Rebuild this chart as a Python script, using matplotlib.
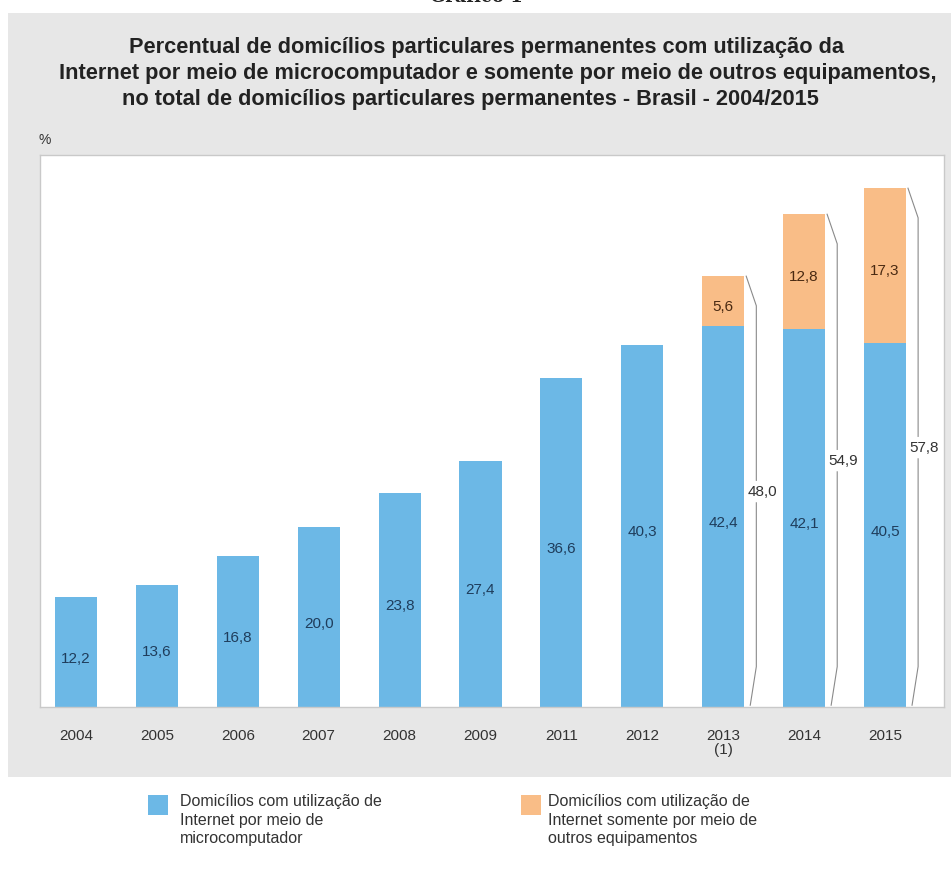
import matplotlib
matplotlib.use("Agg")
import matplotlib.pyplot as plt
from matplotlib.patches import Rectangle

plt.rcParams['font.family'] = ['Liberation Sans', 'DejaVu Sans']

# data
anos = ['2004', '2005', '2006', '2007', '2008', '2009', '2011', '2012', '2013\n(1)', '2014', '2015']
micro = [12.2, 13.6, 16.8, 20.0, 23.8, 27.4, 36.6, 40.3, 42.4, 42.1, 40.5]
outros = [0, 0, 0, 0, 0, 0, 0, 0, 5.6, 12.8, 17.3]
total = [None] * 8 + [48.0, 54.9, 57.8]

titulo = ["Percentual de domicílios particulares permanentes com utilização da",
          "Internet por meio de microcomputador e somente por meio de outros equipamentos,",
          "no total de domicílios particulares permanentes - Brasil - 2004/2015"]
leg_micro = "Domicílios com utilização de\nInternet por meio de\nmicrocomputador"
leg_outros = "Domicílios com utilização de\nInternet somente por meio de\noutros equipamentos"

AZUL = '#6cb8e6'
LARANJA = '#f9bd87'
W, H = 951, 884


def fx(px):
    return px / W


def fy(py):
    return 1 - py / H


fig = plt.figure(figsize=(9.51, 8.84), dpi=100)

# gray panel
fig.patches.append(Rectangle((fx(8), fy(777)), fx(960 - 8), 777 / H - 13 / H,
                             transform=fig.transFigure, facecolor='#e7e7e7',
                             edgecolor='none', zorder=-10))

fig.text(fx(476), fy(6), "Gráfico 1", ha='center', va='bottom', fontsize=13,
         fontweight='bold', family='DejaVu Serif', color='#222')

centros = [486, 498, 470]
for i, linha in enumerate(titulo):
    fig.text(fx(centros[i]), fy(48 + 25.5 * i), linha, ha='center', va='center',
             fontsize=15.7, fontweight='bold', color='#222')

fig.text(fx(45), fy(140), "%", ha='center', va='center', fontsize=10, color='#333')

ax = fig.add_axes([fx(40), fy(707), fx(944 - 40), (707 - 155) / H])
ax.set_facecolor('white')
for s in ax.spines.values():
    s.set_color('#c9c9c9')
    s.set_linewidth(1)

x = list(range(len(anos)))
ax.bar(x, micro, width=0.52, color=AZUL, zorder=2)
ax.bar(x, outros, width=0.52, bottom=micro, color=LARANJA, zorder=2)

for i in x:
    ax.text(i, micro[i] / 2 - 0.7, f"{micro[i]:.1f}".replace('.', ','), ha='center',
            va='center', fontsize=11, color='#1f3d5c', zorder=3)
    if outros[i] > 0:
        ax.text(i, micro[i] + outros[i] / 2 - 0.6, f"{outros[i]:.1f}".replace('.', ','),
                ha='center', va='center', fontsize=11, color='#4a2a12', zorder=3)
    if total[i] is not None:
        t = total[i]
        x0 = i + 0.285
        xv = i + 0.41
        xb = i + 0.335
        gap = 1.25
        ax.plot([x0, xv, xv], [t, t - 3.3, t / 2 + gap], color='#8a8a8a', lw=0.8, zorder=3)
        ax.plot([xv, xv, xb], [t / 2 - gap, 4.5, 0.2], color='#8a8a8a', lw=0.8, zorder=3)
        ax.text(i + 0.48, t / 2, f"{t:.1f}".replace('.', ','), ha='center', va='center',
                fontsize=11, color='#333', zorder=3)

ax.set_xlim(-0.445, 10.73)
ax.set_ylim(0, 61.5)
ax.set_yticks([])
ax.set_xticks(x)
ax.set_xticklabels(anos, fontsize=11, color='#333', linespacing=1.0)
ax.tick_params(axis='x', length=0, pad=16)

# legend
fig.patches.append(Rectangle((fx(148), fy(815)), fx(20), 20 / H, transform=fig.transFigure,
                             facecolor=AZUL, edgecolor='none'))
fig.text(fx(180), fy(794), leg_micro, ha='left', va='top', fontsize=11.5, color='#333',
         linespacing=1.3)
fig.patches.append(Rectangle((fx(521), fy(815)), fx(20), 20 / H, transform=fig.transFigure,
                             facecolor=LARANJA, edgecolor='none'))
fig.text(fx(548), fy(794), leg_outros, ha='left', va='top', fontsize=11.5, color='#333',
         linespacing=1.3)

fig.savefig('out.png', dpi=100, facecolor='white')
